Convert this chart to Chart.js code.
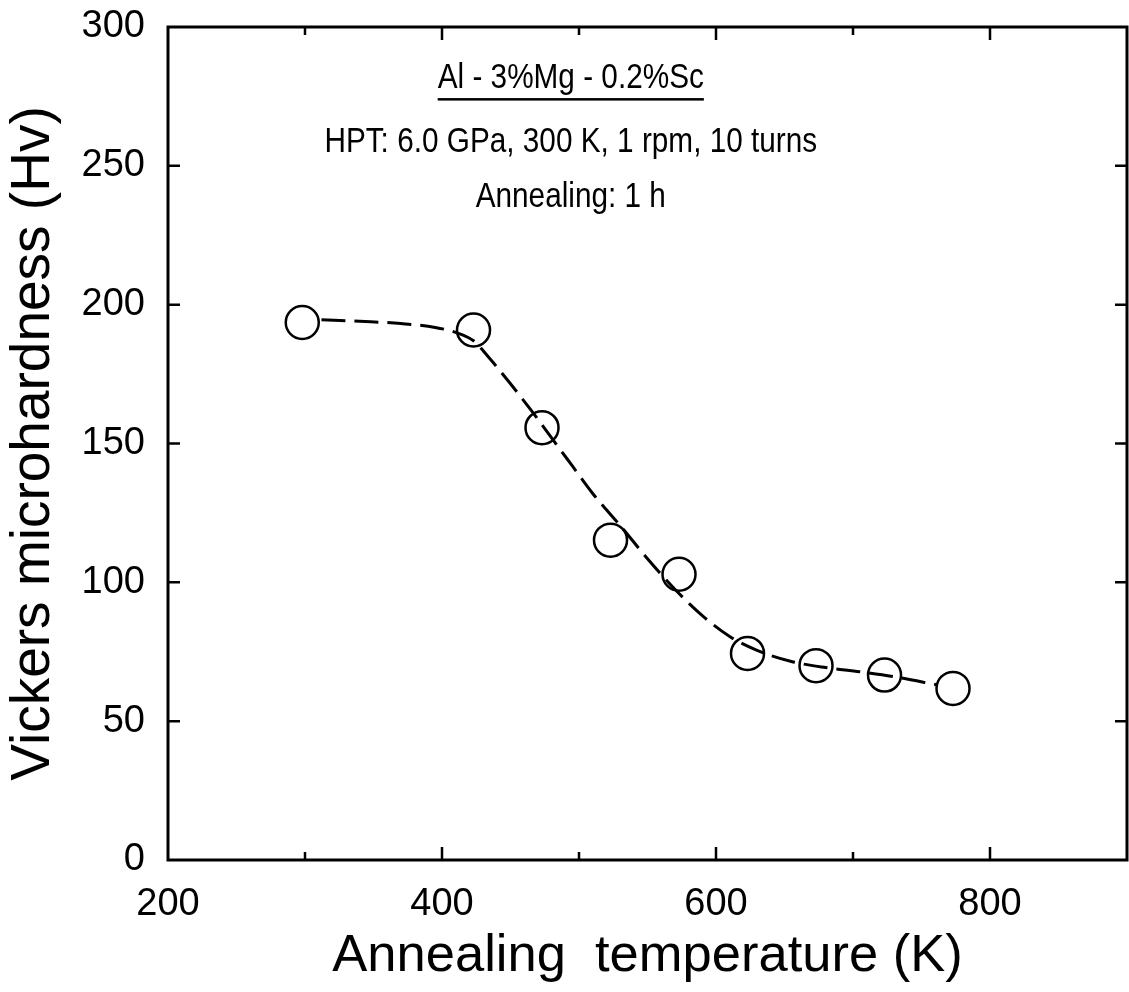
<!DOCTYPE html>
<html>
<head>
<meta charset="utf-8">
<script src="https://cdn.jsdelivr.net/npm/chart.js@4.4.1/dist/chart.umd.min.js"></script>
<style>
  html, body { margin: 0; padding: 0; background: #fff; overflow: hidden; }
  canvas { display: block; }
</style>
</head>
<body>
<canvas id="hvChart" width="1146" height="992"></canvas>
<script>
// measured hardness after 1 h annealing
const annealTemp = [298, 423, 473, 523, 573, 623, 673, 723, 773];
const hardness = [193.6, 190.9, 155.7, 115.2, 102.9, 74.4, 70.0, 66.6, 61.8];

// dashed guide curve
const curveTemp = [312, 340, 370, 395, 410, 423, 435, 450, 465, 480, 495, 510, 530, 550, 570, 590, 610, 630, 655, 680, 705, 730, 762];
const curveHv = [194.6, 194.0, 193.2, 191.8, 190.0, 187.0, 180.5, 171.5, 162.0, 152.0, 142.0, 132.0, 120.5, 108.5, 97.5, 88.0, 80.5, 75.5, 71.5, 69.3, 67.8, 66.0, 63.0];

const xLabelTicks = [200, 400, 600, 800];
const noteLines = ['Al - 3%Mg - 0.2%Sc', 'HPT: 6.0 GPa, 300 K, 1 rpm, 10 turns', 'Annealing: 1 h'];
const noteHv = [278, 255, 235.2];
const noteTemp = 494;

const FONT = '"Liberation Sans", Arial, sans-serif';

const framePlugin = {
  id: 'frame',
  afterDraw(chart) {
    const { ctx, chartArea: a, scales: { x, y } } = chart;
    ctx.save();
    ctx.strokeStyle = '#000';
    ctx.lineWidth = 3;
    ctx.strokeRect(a.left, a.top, a.right - a.left, a.bottom - a.top);
    // inward ticks, mirrored on top and right
    ctx.lineWidth = 2.5;
    ctx.beginPath();
    for (let v = 300; v < 900; v += 100) {
      const px = x.getPixelForValue(v);
      const len = v % 200 === 0 ? 13 : 8;
      ctx.moveTo(px, a.bottom); ctx.lineTo(px, a.bottom - len);
      ctx.moveTo(px, a.top); ctx.lineTo(px, a.top + len);
    }
    for (let v = 50; v < 300; v += 50) {
      const py = y.getPixelForValue(v);
      ctx.moveTo(a.left, py); ctx.lineTo(a.left + 12, py);
      ctx.moveTo(a.right, py); ctx.lineTo(a.right - 12, py);
    }
    ctx.stroke();

    // annotation text
    ctx.fillStyle = '#000';
    ctx.font = '35px ' + FONT;
    ctx.textAlign = 'center';
    ctx.textBaseline = 'alphabetic';
    const cx = x.getPixelForValue(noteTemp);
    noteLines.forEach((t, i) => {
      const by = y.getPixelForValue(noteHv[i]);
      ctx.save();
      ctx.translate(cx, by);
      ctx.scale(0.85, 1);
      ctx.fillText(t, 0, 0);
      if (i === 0) {
        const w = ctx.measureText(t).width;
        ctx.fillRect(-w / 2, 10, w, 2.5);
      }
      ctx.restore();
    });
    ctx.restore();
  }
};

new Chart(document.getElementById('hvChart'), {
  type: 'scatter',
  data: {
    datasets: [
      {
        label: 'fit',
        data: curveTemp.map((t, i) => ({ x: t, y: curveHv[i] })),
        showLine: true,
        borderColor: '#000',
        borderWidth: 3,
        borderDash: [24, 9],
        pointRadius: 0,
        tension: 0.4,
        cubicInterpolationMode: 'monotone',
        fill: false
      },
      {
        label: 'Hv',
        data: annealTemp.map((t, i) => ({ x: t, y: hardness[i] })),
        showLine: false,
        pointRadius: 16.5,
        pointBorderWidth: 2.5,
        pointBorderColor: '#000',
        pointBackgroundColor: 'rgba(0,0,0,0)'
      }
    ]
  },
  options: {
    responsive: false,
    animation: false,
    layout: { padding: { top: 27, right: 2, left: 0, bottom: 0 } },
    plugins: { legend: { display: false }, tooltip: { enabled: false } },
    scales: {
      x: {
        type: 'linear',
        min: 200,
        max: 900,
        afterFit: s => { s.height = 132; s.paddingLeft = 0; s.paddingRight = 0; },
        grid: { display: false, drawTicks: false },
        border: { display: false },
        ticks: {
          stepSize: 100,
          padding: 22,
          color: '#000',
          font: { family: FONT, size: 38 },
          maxRotation: 0,
          autoSkip: false,
          callback: v => xLabelTicks.includes(v) ? String(v) : ''
        },
        title: {
          display: true,
          text: 'Annealing  temperature (K)',
          color: '#000',
          font: { family: FONT, size: 52.5, lineHeight: 1 },
          padding: { top: 0, bottom: 9 }
        }
      },
      y: {
        min: 0,
        max: 300,
        afterFit: s => { s.width = 168; s.paddingTop = 0; s.paddingBottom = 0; },
        grid: { display: false, drawTicks: false },
        border: { display: false },
        ticks: {
          stepSize: 50,
          padding: 23,
          color: '#000',
          font: { family: FONT, size: 38 }
        },
        title: {
          display: true,
          text: 'Vickers microhardness (Hv)',
          color: '#000',
          font: { family: FONT, size: 55, lineHeight: 1 },
          padding: { top: 6, bottom: 0 }
        }
      }
    }
  },
  plugins: [framePlugin]
});
</script>
</body>
</html>
